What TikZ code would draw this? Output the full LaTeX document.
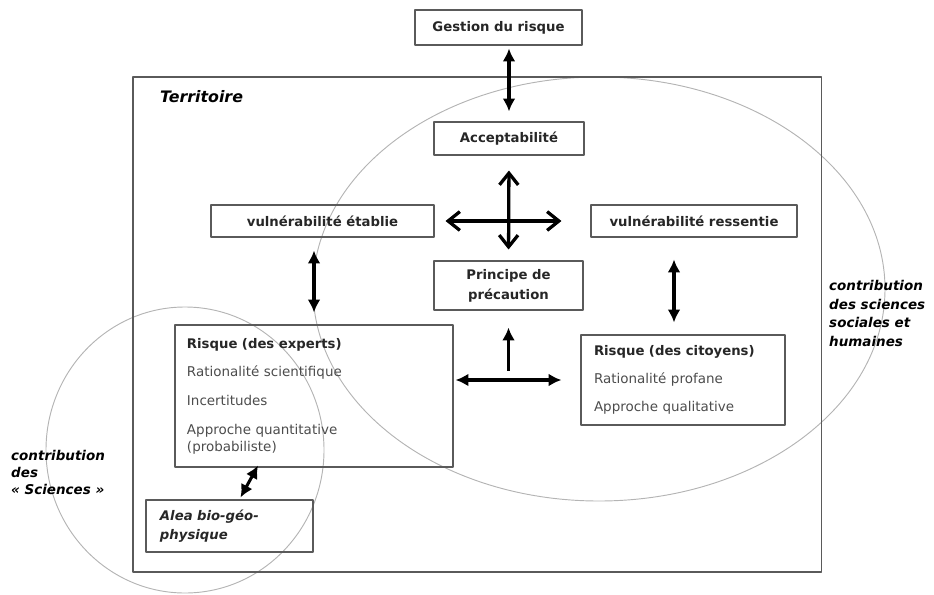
\documentclass[tikz,border=0pt]{standalone}
\usepackage{fontspec}
\setmainfont{DejaVu Sans}
\usetikzlibrary{arrows.meta,calc}
\definecolor{boxgray}{HTML}{5A5A5A}
\definecolor{txtgray}{HTML}{4C4C4C}
\definecolor{ringgray}{HTML}{B4B4B4}
\begin{document}
\begin{tikzpicture}[x=0.03cm, y=-0.03cm, line join=round,
	font=\fontsize{11.5}{14.5}\selectfont,
	box/.style={draw=boxgray, line width=0.9pt, inner sep=0pt, text=black!85},
	ttl/.style={font=\fontsize{11.3}{17}\selectfont\bfseries},
	biarrow/.style={{Latex[length=11pt,width=11pt]}-{Latex[length=11pt,width=11pt]}, line width=2.6pt},
	onearrow/.style={-{Latex[length=11pt,width=11pt]}, line width=2.6pt},
	crossarrow/.style={{Straight Barb[length=10pt,width=16pt]}-{Straight Barb[length=10pt,width=16pt]}, line width=2.8pt}]
	\useasboundingbox (0,0) rectangle (934,594);
	% les deux contributions
	\draw[ringgray, line width=0.8pt] (599,289) ellipse [x radius=8.58cm, y radius=6.36cm];
	\draw[ringgray, line width=0.8pt] (185,450) ellipse [x radius=4.17cm, y radius=4.29cm];
	% cadre du territoire
	\node[draw=boxgray, line width=0.9pt, minimum width=20.64cm, minimum height=14.85cm, inner sep=0pt] (terr) at (477,324.5) {};
	\node[anchor=west, font=\fontsize{13.5}{16}\selectfont\bfseries\itshape] (terrlbl) at (156,97) {Territoire};
	% boites
	\node[box, ttl, minimum width=5.01cm, minimum height=1.05cm] (gestion) at (498.5,27.5) {Gestion du risque};
	\node[box, ttl, minimum width=4.5cm, minimum height=0.99cm] (accept) at (509,138.5) {Acceptabilité};
	\node[box, ttl, minimum width=6.69cm, minimum height=0.96cm] (vetab) at (322.5,221) {vulnérabilité établie};
	\node[box, ttl, minimum width=6.18cm, minimum height=0.96cm] (vress) at (694,221) {vulnérabilité ressentie};
	\node[box, ttl, align=center, minimum width=4.47cm, minimum height=1.47cm] (principe) at (508.5,285.5) {Principe de\\précaution};
	\node[box, text=txtgray, align=left, text width=7.62cm, inner xsep=0.36cm, minimum height=4.26cm] (rexp) at (314,396)
		{{\color{black!85}\bfseries\fontsize{11.3}{14.5}\selectfont Risque (des experts)}\\[10pt]
		Rationalité scientifique\\[10pt]
		Incertitudes\\[10pt]
		Approche quantitative\\
		(probabiliste)};
	\node[box, text=txtgray, align=left, text width=5.34cm, inner xsep=0.39cm, minimum height=2.7cm] (rcit) at (683,380)
		{{\color{black!85}\bfseries\fontsize{11.3}{14.5}\selectfont Risque (des citoyens)}\\[9.5pt]
		Rationalité profane\\[9.5pt]
		Approche qualitative};
	\node[box, align=left, text width=4.17cm, inner xsep=0.42cm, minimum height=1.56cm, font=\fontsize{11.3}{16}\selectfont\bfseries\itshape] (alea) at (229.5,526) {Alea bio-géo-\\physique};
	% textes des contributions
	\node[anchor=north west, align=left, inner sep=0pt, font=\fontsize{11.5}{16}\selectfont\bfseries\itshape] (socs) at (829,280) {contribution\\des sciences\\sociales et\\humaines};
	\node[anchor=north west, align=left, inner sep=0pt, font=\fontsize{11.5}{14.5}\selectfont\bfseries\itshape] (scis) at (11,450) {contribution\\des\\«~Sciences~»};
	% fleches
	\draw[biarrow, shorten <=0.09cm, shorten >=0.3cm] (gestion.south -| accept.north) -- (accept.north);
	\draw[crossarrow, shorten <=0.33cm, shorten >=0.87cm] (vetab) -- (vress);
	\draw[crossarrow, shorten <=0.33cm, shorten >=0.45cm] (principe.north) -- (accept.south);
	\draw[biarrow, shorten <=0.39cm, shorten >=0.36cm] (vetab.south -| rexp.north) -- (rexp.north);
	\draw[biarrow, shorten <=0.69cm, shorten >=0.36cm] ($(rcit.north)+(-9,-98)$) -- ($(rcit.north)+(-9,0)$);
	\draw[biarrow, shorten <=0.06cm, shorten >=0.57cm] (rexp.east |- rcit.west) -- (rcit.west);
	\draw[onearrow, shorten >=0.51cm] ($(principe.south)+(0,60)$) -- (principe.south);
	\draw[biarrow] ($(alea.north)+(11,-2)$) -- ($(rexp.south)+(-56,-2)$);
\end{tikzpicture}
\end{document}
